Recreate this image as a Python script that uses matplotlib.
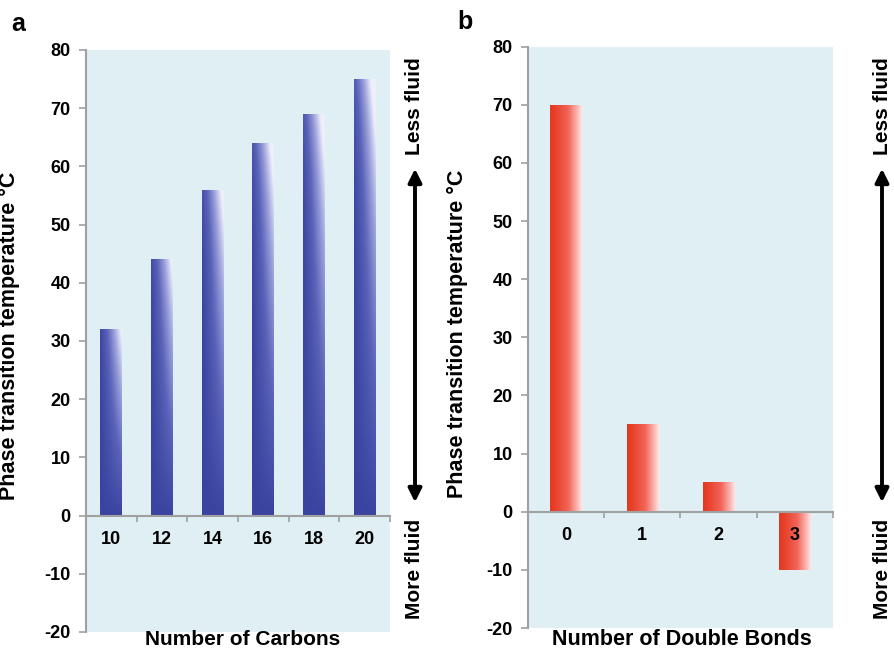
import numpy as np
import matplotlib.pyplot as plt
from matplotlib.colors import LinearSegmentedColormap
from matplotlib.patches import FancyArrowPatch

plt.rcParams['font.family'] = ['Liberation Sans', 'DejaVu Sans']
plt.rcParams['font.weight'] = 'bold'
plt.rcParams['axes.unicode_minus'] = False

# data
carbons = ['10', '12', '14', '16', '18', '20']
carbon_temps = [32, 44, 56, 64, 69, 75]
double_bonds = ['0', '1', '2', '3']
bond_temps = [70, 15, 5, -10]

bg = '#dfeff3'
spine_gray = '#a0a0a0'
blue_cmap = LinearSegmentedColormap.from_list('blue', ['#3a44a0', '#5a63b8', '#9ca2dc', '#efeffb'])
red_cmap = LinearSegmentedColormap.from_list('red', ['#e5381f', '#f2665a', '#ffe4e4'])


def gradient_bars(ax, bars, cmap, vertical):
    u = np.linspace(0, 1, 120)[None, :]
    v = np.linspace(0, 1, 120)[:, None]
    for rect in bars:
        x0, y0 = rect.get_x(), rect.get_y()
        w, h = rect.get_width(), rect.get_height()
        if vertical:
            tall = abs(h) / 75.0
            z = np.clip(u ** 1.1 * v ** 0.9 + 0.25 * tall ** 2 * v ** 6, 0, 1)
        else:
            z = u ** 1.25 * np.ones_like(v)
        ax.imshow(z, extent=[x0, x0 + w, min(y0, y0 + h), max(y0, y0 + h)],
                  origin='lower', cmap=cmap, vmin=0, vmax=1, aspect='auto',
                  interpolation='bilinear', zorder=2)


def style_axes(ax, labels):
    ax.set_facecolor(bg)
    ax.set_ylim(-20, 80)
    ax.set_xlim(-0.5, len(labels) - 0.5)
    ax.set_yticks(range(-20, 81, 10))
    ax.set_xticks(range(len(labels)))
    ax.set_xticklabels(labels)
    ax.set_xticks(np.arange(-0.5, len(labels), 1.0), minor=True)
    for s in ['top', 'right']:
        ax.spines[s].set_visible(False)
    ax.spines['bottom'].set_position(('data', 0))
    ax.spines['bottom'].set_color(spine_gray)
    ax.spines['left'].set_color(spine_gray)
    ax.spines['bottom'].set_linewidth(1.5)
    ax.spines['left'].set_linewidth(1.5)
    ax.tick_params(axis='y', length=5, width=1.2, color=spine_gray, pad=6, labelsize=13)
    ax.tick_params(axis='x', which='major', length=0, pad=11, labelsize=13)
    ax.tick_params(axis='x', which='minor', length=4, width=1.2, color=spine_gray)
    ax.set_axisbelow(False)
    for lab in ax.get_xticklabels() + ax.get_yticklabels():
        lab.set_fontweight('bold')


fig = plt.figure(figsize=(8.94, 6.51), dpi=100)

ax1 = fig.add_axes([0.0962, 0.0292, 0.340, 0.894])
bars1 = ax1.bar(range(len(carbons)), carbon_temps, width=0.43, color='none', edgecolor='none')
style_axes(ax1, carbons)
gradient_bars(ax1, bars1, blue_cmap, True)
ax1.set_xlim(-0.5, len(carbons) - 0.5)
ax1.set_ylim(-20, 80)
ax1.set_ylabel('Phase transition temperature °C', fontsize=15.5, fontweight='bold')
ax1.yaxis.set_label_coords(-0.217, 0.509)
ax1.set_xlabel('Number of Carbons', fontsize=15, fontweight='bold')
ax1.xaxis.set_label_coords(0.515, 0.004)

ax2 = fig.add_axes([0.5906, 0.0353, 0.341, 0.893])
bars2 = ax2.bar(range(len(double_bonds)), bond_temps, width=0.41, color='none', edgecolor='none')
style_axes(ax2, double_bonds)
gradient_bars(ax2, bars2, red_cmap, False)
ax2.set_xlim(-0.5, len(double_bonds) - 0.5)
ax2.set_ylim(-20, 80)
ax2.set_ylabel('Phase transition temperature °C', fontsize=15.5, fontweight='bold')
ax2.yaxis.set_label_coords(-0.197, 0.506)
ax2.set_xlabel('Number of Double Bonds', fontsize=15.5, fontweight='bold')
ax2.xaxis.set_label_coords(0.505, -0.002)

W, H = 894, 651


def fx(px):
    return px / W


def fy(py):
    return 1 - py / H


fig.text(fx(18), fy(24), 'a', fontsize=18, fontweight='bold', ha='center', va='center')
fig.text(fx(465), fy(22), 'b', fontsize=18, fontweight='bold', ha='center', va='center')

for xa in [415, 882]:
    arr = FancyArrowPatch((fx(xa), fy(166)), (fx(xa), fy(505)), transform=fig.transFigure,
                          arrowstyle='<|-|>,head_length=8,head_width=4', lw=2.8,
                          color='black', mutation_scale=1)
    fig.patches.append(arr)
    fig.text(fx(xa), fy(106), 'Less fluid', rotation=90, fontsize=15, fontweight='bold',
             ha='center', va='center')
    fig.text(fx(xa), fy(569), 'More fluid', rotation=90, fontsize=15, fontweight='bold',
             ha='center', va='center')

fig.savefig('out.png', dpi=100)
